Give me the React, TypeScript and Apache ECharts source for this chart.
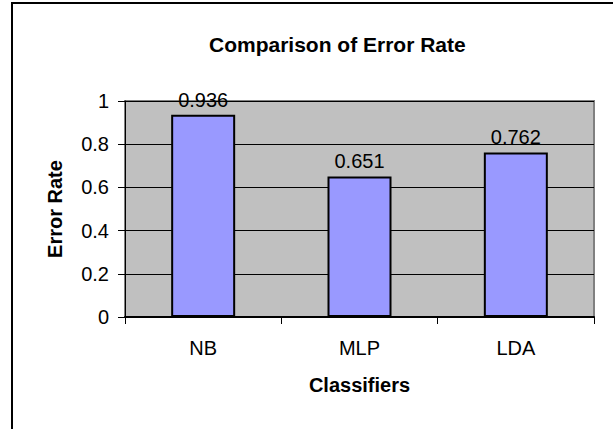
import React, { useEffect, useRef } from "react";
import * as echarts from "echarts";

const categories = ["NB", "MLP", "LDA"];
const errorRates = [0.936, 0.651, 0.762];
const yTicks = { min: 0, max: 1, interval: 0.2 };

const FONT = "'Liberation Sans', Arial, sans-serif";

export default function App() {
  const ref = useRef<HTMLDivElement>(null);
  useEffect(() => {
    document.body.style.margin = "0";
    const chart = echarts.init(ref.current!, null, { renderer: "svg" });
    chart.setOption({
      animation: false,
      backgroundColor: "#ffffff",
      textStyle: { fontFamily: FONT },
      title: {
        text: "Comparison of Error Rate",
        left: 209,
        top: 34,
        padding: 0,
        textStyle: { fontFamily: FONT, fontSize: 21, fontWeight: "bold", color: "#000" },
      },
      graphic: [
        {
          type: "rect",
          shape: { x: 12, y: 3, width: 700, height: 500 },
          style: { fill: "none", stroke: "#000", lineWidth: 2 },
          silent: true,
        },
      ],
      grid: {
        left: 125,
        top: 101,
        right: 19,
        bottom: 112,
        show: true,
        backgroundColor: "#C0C0C0",
        borderColor: "#808080",
        borderWidth: 2,
      },
      xAxis: {
        type: "category",
        data: categories,
        name: "Classifiers",
        nameLocation: "middle",
        nameGap: 58,
        nameTextStyle: { fontFamily: FONT, fontSize: 20, fontWeight: "bold", color: "#000" },
        axisLine: { lineStyle: { color: "#000", width: 2 } },
        axisTick: { show: true, length: 7, alignWithLabel: false, lineStyle: { color: "#000" } },
        axisLabel: { fontFamily: FONT, fontSize: 20, color: "#000", margin: 21 },
      },
      yAxis: {
        type: "value",
        min: yTicks.min,
        max: yTicks.max,
        interval: yTicks.interval,
        name: "Error Rate",
        nameLocation: "middle",
        nameRotate: 90,
        nameGap: 60,
        nameTextStyle: { fontFamily: FONT, fontSize: 20, fontWeight: "bold", color: "#000" },
        axisLine: { show: true, lineStyle: { color: "#000", width: 1 } },
        axisTick: { show: true, length: 7, lineStyle: { color: "#000" } },
        axisLabel: { fontFamily: FONT, fontSize: 20, color: "#000", margin: 16 },
        splitLine: { show: true, lineStyle: { color: "#000", width: 1 } },
      },
      series: [
        {
          type: "bar",
          data: errorRates,
          barWidth: 64,
          itemStyle: { color: "#9999FF", borderColor: "#000", borderWidth: 2 },
          label: {
            show: true,
            position: "top",
            distance: 5,
            fontFamily: FONT,
            fontSize: 20,
            color: "#000",
          },
        },
      ],
    });
    return () => chart.dispose();
  }, []);
  return <div ref={ref} style={{ width: 613, height: 429 }} />;
}
